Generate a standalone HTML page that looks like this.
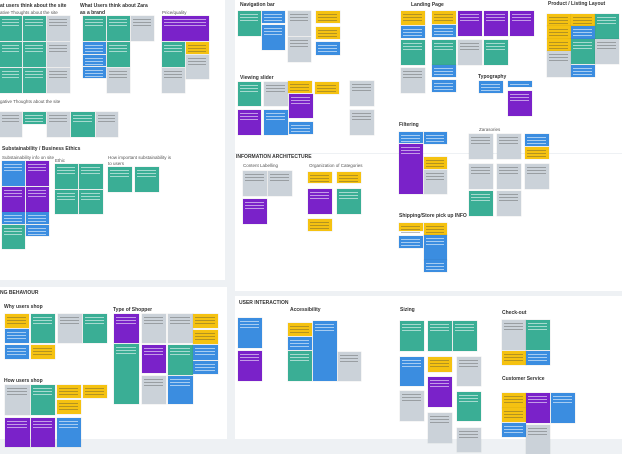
<!DOCTYPE html>
<html><head><meta charset="utf-8"><style>
*{margin:0;padding:0;box-sizing:border-box}
body{width:622px;height:439px;overflow:hidden;background:#eef1f4;position:relative;font-family:"Liberation Sans",sans-serif}
.pn{position:absolute;background:#fff}
i{position:absolute;display:block;box-shadow:0 0 0 .5px rgba(0,0,0,.08)}
i::before{content:"";position:absolute;left:2px;right:3px;top:3px;height:9px;background:repeating-linear-gradient(to bottom,rgba(255,255,255,.55) 0 1px,transparent 1px 3px)}
i.g::before,i.y::before{background:repeating-linear-gradient(to bottom,rgba(60,60,60,.35) 0 1px,transparent 1px 3px)}
.t{background:#3aae95}.b{background:#3b8de0}.p{background:#7a22c9}.g{background:#cbd2d9}.y{background:#f5c211}
.h{position:absolute;font-size:5px;color:#333;white-space:nowrap;font-weight:bold}
.s{position:absolute;font-size:4.5px;color:#555;white-space:nowrap}
</style></head><body>
<div class="pn" style="left:0;top:0;width:225px;height:280px"></div>
<div class="pn" style="left:235px;top:0;width:387px;height:291px"></div>
<div class="pn" style="left:0;top:287px;width:227px;height:152px"></div>
<div class="pn" style="left:235px;top:296px;width:387px;height:143px"></div>
<div style="position:absolute;left:235px;top:153px;width:387px;height:1px;background:#eef1f4"></div>

<!-- top-left -->
<div class="h" style="left:0;top:3px">at users think about the site</div>
<div class="s" style="left:0;top:10px">ative Thoughts about the site</div>
<i class="t" style="left:0;top:16px;width:22px;height:25px"></i><i class="t" style="left:23px;top:16px;width:23px;height:25px"></i><i class="g" style="left:47px;top:16px;width:23px;height:25px"></i>
<i class="t" style="left:0;top:42px;width:22px;height:25px"></i><i class="t" style="left:23px;top:42px;width:23px;height:25px"></i><i class="g" style="left:47px;top:42px;width:23px;height:25px"></i>
<i class="t" style="left:0;top:68px;width:22px;height:25px"></i><i class="t" style="left:23px;top:68px;width:23px;height:25px"></i><i class="g" style="left:47px;top:68px;width:23px;height:25px"></i>
<div class="h" style="left:80px;top:3px">What Users think about Zara</div>
<div class="h" style="left:80px;top:10px">as a brand</div>
<i class="t" style="left:83px;top:16px;width:23px;height:25px"></i><i class="t" style="left:107px;top:16px;width:23px;height:25px"></i><i class="g" style="left:131px;top:16px;width:23px;height:25px"></i>
<i class="b" style="left:83px;top:42px;width:23px;height:12px"></i><i class="b" style="left:83px;top:55px;width:23px;height:11px"></i><i class="b" style="left:83px;top:67px;width:23px;height:11px"></i>
<i class="t" style="left:107px;top:42px;width:23px;height:25px"></i><i class="g" style="left:107px;top:68px;width:23px;height:25px"></i>
<div class="s" style="left:162px;top:10px">Price/quality</div>
<i class="p" style="left:162px;top:16px;width:47px;height:25px"></i>
<i class="t" style="left:162px;top:42px;width:23px;height:25px"></i><i class="y" style="left:186px;top:42px;width:23px;height:12px"></i><i class="g" style="left:186px;top:55px;width:23px;height:24px"></i><i class="g" style="left:162px;top:68px;width:23px;height:25px"></i>
<div class="s" style="left:0;top:99px">gative Thoughts about the site</div>
<i class="g" style="left:0;top:112px;width:22px;height:25px"></i><i class="t" style="left:23px;top:112px;width:23px;height:12px"></i><i class="g" style="left:47px;top:112px;width:23px;height:25px"></i><i class="t" style="left:71px;top:112px;width:24px;height:25px"></i><i class="g" style="left:96px;top:112px;width:22px;height:25px"></i>
<div class="h" style="left:2px;top:146px">Substainability / Business Ethics</div>
<div class="s" style="left:2px;top:155px">Substainability info on site</div>
<div class="s" style="left:55px;top:158px">Ethic</div>
<div class="s" style="left:108px;top:155px">How important substainability is</div>
<div class="s" style="left:108px;top:161px">to users</div>
<i class="b" style="left:2px;top:161px;width:23px;height:25px"></i><i class="p" style="left:26px;top:161px;width:23px;height:25px"></i>
<i class="p" style="left:2px;top:187px;width:23px;height:25px"></i><i class="p" style="left:26px;top:187px;width:23px;height:25px"></i>
<i class="b" style="left:2px;top:212px;width:23px;height:12px"></i><i class="b" style="left:26px;top:212px;width:23px;height:12px"></i>
<i class="t" style="left:2px;top:225px;width:23px;height:24px"></i><i class="b" style="left:26px;top:225px;width:23px;height:11px"></i>
<i class="t" style="left:55px;top:164px;width:23px;height:25px"></i><i class="t" style="left:79px;top:164px;width:24px;height:25px"></i>
<i class="t" style="left:55px;top:190px;width:23px;height:24px"></i><i class="t" style="left:79px;top:190px;width:24px;height:24px"></i>
<i class="t" style="left:108px;top:167px;width:24px;height:25px"></i><i class="t" style="left:135px;top:167px;width:24px;height:25px"></i>

<!-- top-right -->
<div class="h" style="left:240px;top:2px">Navigation bar</div>
<i class="t" style="left:238px;top:11px;width:23px;height:25px"></i><i class="b" style="left:262px;top:11px;width:23px;height:12px"></i><i class="b" style="left:262px;top:25px;width:23px;height:25px"></i>
<i class="g" style="left:288px;top:11px;width:23px;height:25px"></i><i class="g" style="left:288px;top:37px;width:23px;height:25px"></i>
<i class="y" style="left:316px;top:11px;width:24px;height:12px"></i><i class="y" style="left:316px;top:27px;width:24px;height:12px"></i><i class="b" style="left:316px;top:42px;width:24px;height:13px"></i>
<div class="h" style="left:240px;top:75px">Viewing slider</div>
<i class="t" style="left:238px;top:82px;width:23px;height:24px"></i><i class="g" style="left:264px;top:82px;width:24px;height:24px"></i><i class="y" style="left:288px;top:81px;width:24px;height:12px"></i><i class="y" style="left:315px;top:82px;width:24px;height:12px"></i><i class="g" style="left:350px;top:81px;width:24px;height:25px"></i>
<i class="p" style="left:289px;top:94px;width:24px;height:24px"></i><i class="p" style="left:238px;top:110px;width:23px;height:25px"></i><i class="b" style="left:264px;top:110px;width:24px;height:25px"></i><i class="b" style="left:289px;top:122px;width:24px;height:12px"></i><i class="g" style="left:350px;top:110px;width:24px;height:25px"></i>
<div class="h" style="left:236px;top:154px">INFORMATION ARCHITECTURE</div>
<div class="s" style="left:243px;top:163px">Content Labelling</div>
<div class="s" style="left:309px;top:163px">Organization of Categories</div>
<i class="g" style="left:243px;top:171px;width:24px;height:25px"></i><i class="g" style="left:268px;top:171px;width:24px;height:25px"></i><i class="p" style="left:243px;top:199px;width:24px;height:25px"></i>
<i class="y" style="left:308px;top:172px;width:24px;height:11px"></i><i class="y" style="left:337px;top:172px;width:24px;height:11px"></i><i class="p" style="left:308px;top:189px;width:24px;height:25px"></i><i class="t" style="left:337px;top:189px;width:24px;height:25px"></i><i class="y" style="left:308px;top:219px;width:24px;height:12px"></i>
<div class="h" style="left:411px;top:2px">Landing Page</div>
<i class="y" style="left:401px;top:11px;width:24px;height:14px"></i><i class="b" style="left:401px;top:26px;width:24px;height:12px"></i><i class="t" style="left:401px;top:40px;width:24px;height:25px"></i><i class="g" style="left:401px;top:68px;width:24px;height:25px"></i>
<i class="y" style="left:432px;top:11px;width:24px;height:13px"></i><i class="b" style="left:432px;top:25px;width:24px;height:12px"></i><i class="t" style="left:432px;top:40px;width:24px;height:25px"></i><i class="b" style="left:432px;top:65px;width:24px;height:12px"></i><i class="b" style="left:432px;top:80px;width:24px;height:12px"></i>
<i class="p" style="left:458px;top:11px;width:24px;height:25px"></i><i class="g" style="left:458px;top:40px;width:24px;height:25px"></i><i class="p" style="left:484px;top:11px;width:24px;height:25px"></i><i class="p" style="left:510px;top:11px;width:24px;height:25px"></i><i class="t" style="left:484px;top:40px;width:24px;height:25px"></i>
<div class="h" style="left:478px;top:74px">Typography</div>
<i class="b" style="left:479px;top:81px;width:24px;height:12px"></i><i class="b" style="left:508px;top:81px;width:24px;height:6px"></i><i class="p" style="left:508px;top:91px;width:24px;height:25px"></i>
<div class="h" style="left:399px;top:122px">Filtering</div>
<i class="b" style="left:399px;top:132px;width:24px;height:11px"></i><i class="b" style="left:424px;top:132px;width:23px;height:12px"></i><i class="p" style="left:399px;top:144px;width:24px;height:50px"></i><i class="y" style="left:424px;top:157px;width:23px;height:12px"></i><i class="g" style="left:424px;top:170px;width:23px;height:24px"></i>
<div class="h" style="left:399px;top:213px">Shipping/Store pick up INFO</div>
<i class="y" style="left:399px;top:223px;width:24px;height:8px"></i><i class="y" style="left:424px;top:223px;width:23px;height:12px"></i><i class="b" style="left:399px;top:236px;width:24px;height:12px"></i><i class="b" style="left:424px;top:235px;width:23px;height:25px"></i><i class="b" style="left:424px;top:260px;width:23px;height:12px"></i>
<div class="s" style="left:479px;top:127px">Zarasories</div>
<i class="g" style="left:469px;top:134px;width:24px;height:25px"></i><i class="g" style="left:497px;top:134px;width:24px;height:25px"></i><i class="b" style="left:525px;top:134px;width:24px;height:12px"></i><i class="y" style="left:525px;top:147px;width:24px;height:12px"></i>
<i class="g" style="left:469px;top:164px;width:24px;height:25px"></i><i class="g" style="left:497px;top:164px;width:24px;height:25px"></i><i class="g" style="left:525px;top:164px;width:24px;height:25px"></i>
<i class="t" style="left:469px;top:191px;width:24px;height:25px"></i><i class="g" style="left:497px;top:191px;width:24px;height:25px"></i>
<div class="h" style="left:548px;top:1px">Product / Listing Layout</div>
<i class="y" style="left:547px;top:14px;width:24px;height:12px"></i><i class="y" style="left:571px;top:14px;width:24px;height:12px"></i><i class="t" style="left:595px;top:14px;width:24px;height:25px"></i>
<i class="y" style="left:547px;top:26px;width:24px;height:13px"></i><i class="b" style="left:571px;top:26px;width:24px;height:13px"></i>
<i class="y" style="left:547px;top:39px;width:24px;height:12px"></i><i class="g" style="left:547px;top:51px;width:24px;height:26px"></i><i class="t" style="left:571px;top:39px;width:24px;height:25px"></i><i class="b" style="left:571px;top:65px;width:24px;height:12px"></i><i class="g" style="left:595px;top:39px;width:24px;height:25px"></i>

<!-- bottom-left -->
<div class="h" style="left:0;top:290px">NG BEHAVIOUR</div>
<div class="h" style="left:4px;top:304px">Why users shop</div>
<i class="y" style="left:5px;top:314px;width:24px;height:14px"></i><i class="b" style="left:5px;top:329px;width:24px;height:14px"></i><i class="b" style="left:5px;top:345px;width:24px;height:14px"></i>
<i class="t" style="left:31px;top:314px;width:24px;height:29px"></i><i class="y" style="left:31px;top:345px;width:24px;height:14px"></i><i class="g" style="left:58px;top:314px;width:24px;height:29px"></i><i class="t" style="left:83px;top:314px;width:24px;height:29px"></i>
<div class="h" style="left:113px;top:307px">Type of Shopper</div>
<i class="p" style="left:114px;top:314px;width:25px;height:29px"></i><i class="g" style="left:142px;top:314px;width:24px;height:29px"></i><i class="g" style="left:168px;top:314px;width:25px;height:29px"></i><i class="y" style="left:193px;top:314px;width:25px;height:14px"></i><i class="y" style="left:193px;top:330px;width:25px;height:14px"></i>
<i class="t" style="left:114px;top:344px;width:25px;height:60px"></i><i class="p" style="left:142px;top:345px;width:24px;height:28px"></i><i class="g" style="left:142px;top:376px;width:24px;height:28px"></i><i class="t" style="left:168px;top:345px;width:25px;height:30px"></i><i class="b" style="left:168px;top:376px;width:25px;height:28px"></i><i class="b" style="left:193px;top:345px;width:25px;height:15px"></i><i class="b" style="left:193px;top:361px;width:25px;height:13px"></i>
<div class="h" style="left:4px;top:378px">How users shop</div>
<i class="g" style="left:5px;top:385px;width:25px;height:30px"></i><i class="t" style="left:31px;top:385px;width:24px;height:30px"></i><i class="y" style="left:57px;top:385px;width:24px;height:13px"></i><i class="y" style="left:83px;top:385px;width:24px;height:13px"></i><i class="y" style="left:57px;top:400px;width:24px;height:14px"></i>
<i class="p" style="left:5px;top:418px;width:25px;height:29px"></i><i class="p" style="left:31px;top:418px;width:24px;height:29px"></i><i class="b" style="left:57px;top:418px;width:24px;height:29px"></i>

<!-- bottom-right -->
<div class="h" style="left:239px;top:300px">USER INTERACTION</div>
<div class="h" style="left:290px;top:307px">Accessibility</div>
<i class="b" style="left:238px;top:318px;width:24px;height:30px"></i><i class="p" style="left:238px;top:351px;width:24px;height:30px"></i>
<i class="y" style="left:288px;top:323px;width:24px;height:13px"></i><i class="b" style="left:288px;top:337px;width:24px;height:13px"></i><i class="t" style="left:288px;top:351px;width:24px;height:30px"></i><i class="b" style="left:313px;top:321px;width:24px;height:60px"></i><i class="g" style="left:338px;top:352px;width:23px;height:29px"></i>
<div class="h" style="left:400px;top:307px">Sizing</div>
<i class="t" style="left:400px;top:321px;width:24px;height:30px"></i><i class="t" style="left:428px;top:321px;width:24px;height:30px"></i><i class="t" style="left:453px;top:321px;width:24px;height:30px"></i>
<i class="b" style="left:400px;top:357px;width:24px;height:29px"></i><i class="y" style="left:428px;top:357px;width:24px;height:15px"></i><i class="p" style="left:428px;top:377px;width:24px;height:30px"></i><i class="g" style="left:457px;top:357px;width:24px;height:29px"></i>
<i class="g" style="left:400px;top:391px;width:24px;height:30px"></i><i class="g" style="left:428px;top:413px;width:24px;height:30px"></i><i class="t" style="left:457px;top:392px;width:24px;height:29px"></i><i class="g" style="left:457px;top:428px;width:24px;height:24px"></i>
<div class="h" style="left:502px;top:310px">Check-out</div>
<i class="g" style="left:502px;top:320px;width:24px;height:30px"></i><i class="t" style="left:526px;top:320px;width:24px;height:30px"></i><i class="y" style="left:502px;top:351px;width:24px;height:14px"></i><i class="b" style="left:526px;top:351px;width:24px;height:14px"></i>
<div class="h" style="left:502px;top:376px">Customer Service</div>
<i class="y" style="left:502px;top:393px;width:24px;height:15px"></i><i class="y" style="left:502px;top:408px;width:24px;height:14px"></i><i class="b" style="left:502px;top:423px;width:24px;height:14px"></i><i class="p" style="left:526px;top:393px;width:24px;height:30px"></i><i class="b" style="left:551px;top:393px;width:24px;height:30px"></i><i class="g" style="left:526px;top:425px;width:24px;height:29px"></i>
</body></html>
